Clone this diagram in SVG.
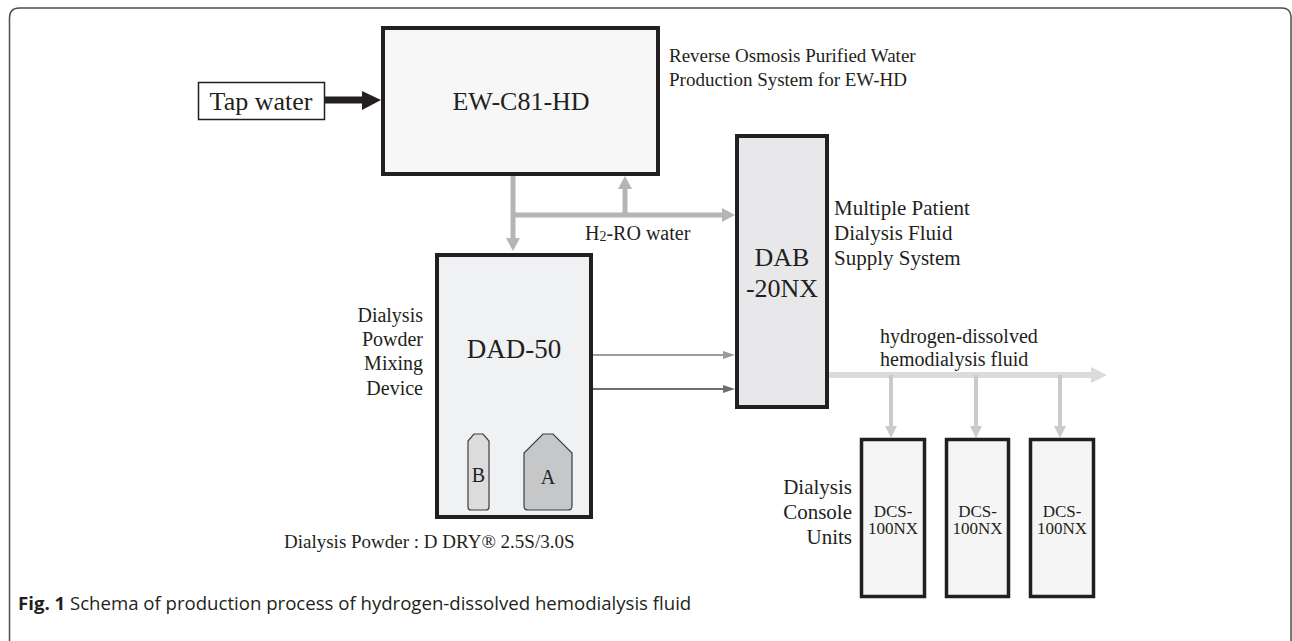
<svg xmlns="http://www.w3.org/2000/svg" width="1292" height="641" viewBox="0 0 1292 641">
<style>
.t{font-family:"Liberation Serif","Times New Roman",serif;fill:#231f20}
.box{stroke:#231f20;stroke-width:4}
.gray{stroke:#b4b5b7;stroke-width:5;fill:none}
.light{stroke:#dadbdc;stroke-width:6;fill:none}
.br{stroke:#c9cacb;stroke-width:4;fill:none}
.cap{font-family:"Open Sans","Liberation Sans",sans-serif;font-size:18.6px;fill:#231f20}
</style>
<defs>
<marker id="ag" markerWidth="13" markerHeight="14" refX="0" refY="0" viewBox="0 -7 13 14" markerUnits="userSpaceOnUse" orient="auto"><path d="M0,-7 L13,0 L0,7 Z" fill="#b4b5b7"/></marker>
<marker id="al" markerWidth="16" markerHeight="16" refX="0" refY="0" viewBox="0 -8 16 16" markerUnits="userSpaceOnUse" orient="auto"><path d="M0,-8 L16,0 L0,8 Z" fill="#dadbdc"/></marker>
<marker id="ab" markerWidth="12" markerHeight="12" refX="0" refY="0" viewBox="0 -6 12 12" markerUnits="userSpaceOnUse" orient="auto"><path d="M0,-6 L12,0 L0,6 Z" fill="#c9cacb"/></marker>
<marker id="a1" markerWidth="12" markerHeight="8" refX="0" refY="0" viewBox="0 -4 12 8" markerUnits="userSpaceOnUse" orient="auto"><path d="M0,-4 L12,0 L0,4 Z" fill="#9a9b9d"/></marker>
<marker id="a2" markerWidth="12" markerHeight="8" refX="0" refY="0" viewBox="0 -4 12 8" markerUnits="userSpaceOnUse" orient="auto"><path d="M0,-4 L12,0 L0,4 Z" fill="#6d6e70"/></marker>
</defs>
<rect width="1292" height="641" fill="#ffffff"/>
<path d="M9.5,641 V18 Q9.5,8 19.5,8 H1282 Q1290,8 1291,16 V641" fill="none" stroke="#4d4d4f" stroke-width="1.5"/>

<g id="connectors">
<line x1="325" y1="100" x2="363" y2="100" stroke="#231f20" stroke-width="7"/>
<path d="M362,91 L381,100 L362,110 Z" fill="#231f20"/>
<line class="gray" x1="513" y1="176" x2="513" y2="238" marker-end="url(#ag)"/>
<line class="gray" x1="513" y1="215" x2="722" y2="215" marker-end="url(#ag)"/>
<line class="gray" x1="625" y1="215" x2="625" y2="189" marker-end="url(#ag)"/>
<line x1="593" y1="355" x2="723" y2="355" stroke="#9a9b9d" stroke-width="2" marker-end="url(#a1)"/>
<line x1="593" y1="389" x2="723" y2="389" stroke="#6d6e70" stroke-width="2" marker-end="url(#a2)"/>
<line class="light" x1="829" y1="375" x2="1091" y2="375" marker-end="url(#al)"/>
<line class="br" x1="891" y1="375" x2="891" y2="426" marker-end="url(#ab)"/>
<line class="br" x1="976" y1="375" x2="976" y2="426" marker-end="url(#ab)"/>
<line class="br" x1="1060" y1="375" x2="1060" y2="426" marker-end="url(#ab)"/>
</g>

<g id="tap-water">
<rect x="198.5" y="82.5" width="126" height="37" fill="#ffffff" stroke="#231f20" stroke-width="1.5"/>
<text class="t" x="261" y="110" font-size="26" text-anchor="middle">Tap water</text>
</g>

<g id="ew-c81-hd">
<rect class="box" x="383" y="28" width="275" height="146" fill="#f7f7f7"/>
<text class="t" x="521" y="110" font-size="26" text-anchor="middle">EW-C81-HD</text>
<text class="t" x="669" y="62" font-size="19">Reverse Osmosis Purified Water</text>
<text class="t" x="669" y="86" font-size="19">Production System for EW-HD</text>
</g>

<text class="t" x="585" y="240" font-size="20">H<tspan font-size="14" dy="1">2</tspan><tspan dy="-1">-RO water</tspan></text>

<g id="dad-50">
<rect class="box" x="437" y="255" width="154" height="262" fill="#f0f1f3"/>
<text class="t" x="514" y="358" font-size="27" text-anchor="middle">DAD-50</text>
<path d="M474,434 H483 L489,441 V507 Q489,510 486,510 H471 Q468,510 468,507 V441 Z" fill="#dcdcdd" stroke="#3d3d3f" stroke-width="1.2"/>
<text class="t" x="478.5" y="482" font-size="20" text-anchor="middle">B</text>
<path d="M543,434 H553 L572,453 V506 Q572,510 568,510 H528 Q524,510 524,506 V453 Z" fill="#c6c7c8" stroke="#3d3d3f" stroke-width="1.2"/>
<text class="t" x="548" y="484" font-size="20" text-anchor="middle">A</text>
<text class="t" x="423" y="322" font-size="20" text-anchor="end">Dialysis</text>
<text class="t" x="423" y="346" font-size="20" text-anchor="end">Powder</text>
<text class="t" x="423" y="370" font-size="20" text-anchor="end">Mixing</text>
<text class="t" x="423" y="395" font-size="20" text-anchor="end">Device</text>
<text class="t" x="284" y="548" font-size="19">Dialysis Powder : D DRY® 2.5S/3.0S</text>
</g>

<g id="dab-20nx">
<rect class="box" x="737" y="136" width="90" height="271" fill="#e8e8ea"/>
<text class="t" x="782" y="266" font-size="26" text-anchor="middle">DAB</text>
<text class="t" x="782" y="297" font-size="26" text-anchor="middle">-20NX</text>
<text class="t" x="834" y="215" font-size="21">Multiple Patient</text>
<text class="t" x="834" y="240" font-size="21">Dialysis Fluid</text>
<text class="t" x="834" y="265" font-size="21">Supply System</text>
<text class="t" x="880" y="343" font-size="20">hydrogen-dissolved</text>
<text class="t" x="880" y="366" font-size="20">hemodialysis fluid</text>
</g>

<g id="dcs-1">
<rect x="861.5" y="439.5" width="63" height="157" fill="#f5f5f5" stroke="#231f20" stroke-width="3.5"/>
<text class="t" x="893" y="517" font-size="17" text-anchor="middle">DCS-</text>
<text class="t" x="893" y="534" font-size="17" text-anchor="middle">100NX</text>
</g>
<g id="dcs-2">
<rect x="946.5" y="439.5" width="62" height="157" fill="#f5f5f5" stroke="#231f20" stroke-width="3.5"/>
<text class="t" x="977.5" y="517" font-size="17" text-anchor="middle">DCS-</text>
<text class="t" x="977.5" y="534" font-size="17" text-anchor="middle">100NX</text>
</g>
<g id="dcs-3">
<rect x="1030.5" y="439.5" width="63" height="157" fill="#f5f5f5" stroke="#231f20" stroke-width="3.5"/>
<text class="t" x="1062" y="517" font-size="17" text-anchor="middle">DCS-</text>
<text class="t" x="1062" y="534" font-size="17" text-anchor="middle">100NX</text>
</g>
<g id="console-label">
<text class="t" x="852" y="494" font-size="21" text-anchor="end">Dialysis</text>
<text class="t" x="852" y="519" font-size="21" text-anchor="end">Console</text>
<text class="t" x="852" y="544" font-size="21" text-anchor="end">Units</text>
</g>

<text class="cap" x="18" y="610"><tspan font-weight="bold">Fig. 1</tspan> Schema of production process of hydrogen-dissolved hemodialysis fluid</text>
</svg>
